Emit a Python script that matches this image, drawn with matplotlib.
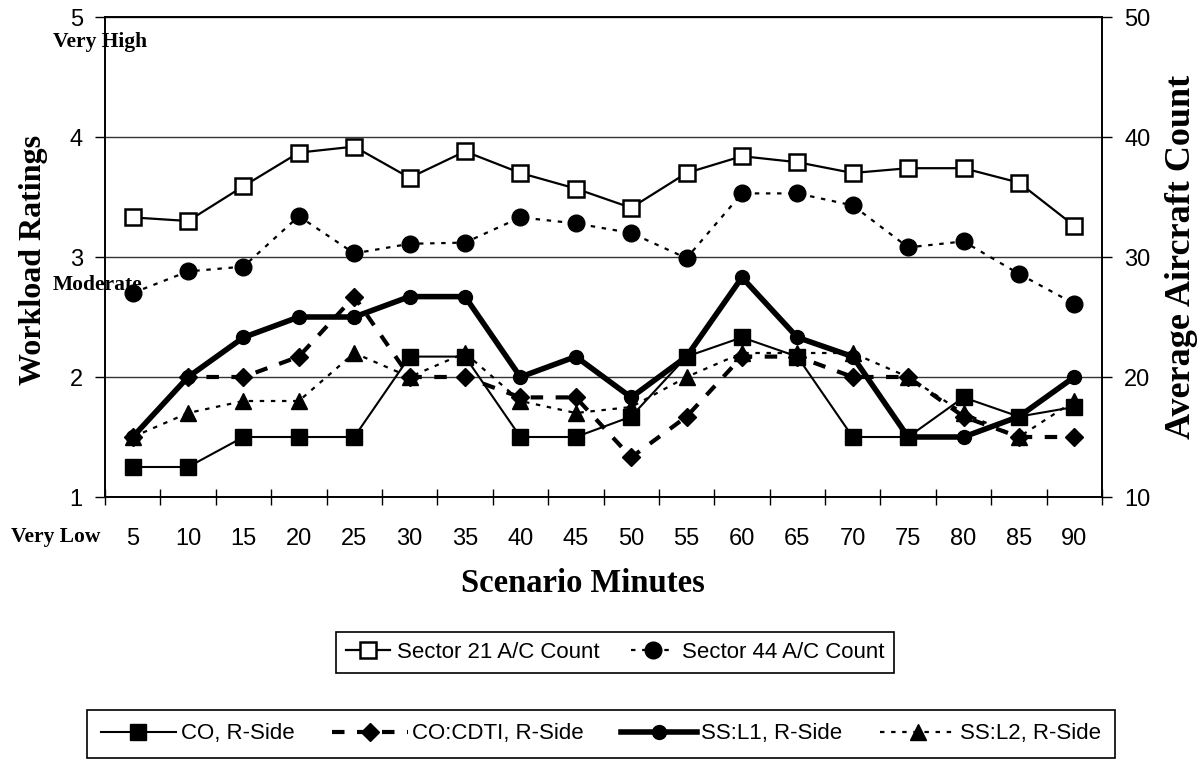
import numpy as np
import matplotlib.pyplot as plt
from matplotlib.ticker import FixedLocator

minutes = [5, 10, 15, 20, 25, 30, 35, 40, 45, 50, 55, 60, 65, 70, 75, 80, 85, 90]

# workload ratings (left axis)
co_rside = [1.25, 1.25, 1.5, 1.5, 1.5, 2.17, 2.17, 1.5, 1.5, 1.67, 2.17, 2.33, 2.17, 1.5, 1.5, 1.83, 1.67, 1.75]
cdti_rside = [1.5, 2.0, 2.0, 2.17, 2.67, 2.0, 2.0, 1.83, 1.83, 1.33, 1.67, 2.17, 2.17, 2.0, 2.0, 1.67, 1.5, 1.5]
ssl1_rside = [1.5, 2.0, 2.33, 2.5, 2.5, 2.67, 2.67, 2.0, 2.17, 1.83, 2.17, 2.83, 2.33, 2.17, 1.5, 1.5, 1.67, 2.0]
ssl2_rside = [1.5, 1.7, 1.8, 1.8, 2.2, 2.0, 2.2, 1.8, 1.7, 1.75, 2.0, 2.2, 2.2, 2.2, 2.0, 1.7, 1.5, 1.8]

# aircraft counts (right axis)
sector21 = [33.3, 33.0, 35.9, 38.7, 39.2, 36.6, 38.8, 37.0, 35.7, 34.1, 37.0, 38.4, 37.9, 37.0, 37.4, 37.4, 36.2, 32.6]
sector44 = [27.0, 28.8, 29.2, 33.4, 30.3, 31.1, 31.2, 33.3, 32.8, 32.0, 29.9, 35.3, 35.3, 34.3, 30.8, 31.3, 28.6, 26.1]

sans = ['Liberation Sans', 'DejaVu Sans']
serif = ['Liberation Serif', 'DejaVu Serif']
plt.rcParams['font.family'] = sans

W, H = 1202, 767
fig = plt.figure(figsize=(W/100, H/100), dpi=100)
ax = fig.add_axes([105/W, 1-497/H, (1102-105)/W, (497-17)/H])
ax2 = ax.twinx()

x = np.arange(1, len(minutes) + 1)

h1, = ax.plot(x, co_rside, color='black', lw=1.5, marker='s', ms=12, label='CO, R-Side')
h2, = ax.plot(x, cdti_rside, color='black', lw=3, dashes=(3, 3), marker='D', ms=9, label='CO:CDTI, R-Side')
h3, = ax.plot(x, ssl1_rside, color='black', lw=4, marker='o', ms=10, label='SS:L1, R-Side')
h4, = ax.plot(x, ssl2_rside, color='black', lw=1.6, dashes=(2, 3), marker='^', ms=12, label='SS:L2, R-Side')

s1, = ax2.plot(x, sector21, color='black', lw=1.6, marker='s', ms=12, mfc='white', mew=1.8,
               label='Sector 21 A/C Count')
s2, = ax2.plot(x, sector44, color='black', lw=1.6, dashes=(2, 3), marker='o', ms=12,
               label='Sector 44 A/C Count')

ax.set_xlim(0.5, len(minutes) + 0.5)
ax.set_ylim(1, 5)
ax2.set_ylim(10, 50)
ax.set_yticks([1, 2, 3, 4, 5])
ax2.set_yticks([10, 20, 30, 40, 50])
ax.set_xticks(x)
ax.set_xticklabels([str(m) for m in minutes])
ax.xaxis.set_minor_locator(FixedLocator(np.arange(0.5, len(minutes) + 1, 1)))
ax.tick_params(axis='x', which='major', length=0, labelsize=17, pad=22)
ax.tick_params(axis='x', which='minor', direction='inout', length=12, width=1)
ax.tick_params(axis='y', direction='out', length=7, width=1, labelsize=17, pad=9)
ax2.tick_params(axis='y', direction='out', length=7, width=1, labelsize=17, pad=9)

ax.grid(axis='y', color='#333333', lw=1)
for sp in ax.spines.values():
    sp.set_linewidth(1.2)
for sp in ax2.spines.values():
    sp.set_linewidth(1.2)

fig.text(34/W, 1-260/H, 'Workload Ratings', rotation=90, ha='center', va='center',
         family=serif, fontweight='bold', fontsize=23)
fig.text(1181/W, 1-257/H, 'Average Aircraft Count', rotation=90, ha='center', va='center',
         family=serif, fontweight='bold', fontsize=26)
fig.text(583/W, 1-583/H, 'Scenario Minutes', ha='center', va='center',
         family=serif, fontweight='bold', fontsize=23.5)
fig.text(100/W, 1-42/H, 'Very High', ha='center', va='center',
         family=serif, fontweight='bold', fontsize=15.5)
fig.text(53/W, 1-285/H, 'Moderate', ha='left', va='center',
         family=serif, fontweight='bold', fontsize=15.5)
fig.text(56/W, 1-537/H, 'Very Low', ha='center', va='center',
         family=serif, fontweight='bold', fontsize=15.5)

leg1 = fig.legend(handles=[s1, s2], loc='center', bbox_to_anchor=(615/W, 1-652/H), ncol=2,
                  fontsize=16, frameon=True, fancybox=False, edgecolor='black', framealpha=1,
                  handlelength=2, handletextpad=0.3, columnspacing=1.4, borderpad=0.45)
leg1.get_frame().set_linewidth(1.2)
leg2 = fig.legend(handles=[h1, h2, h3, h4], loc='center', bbox_to_anchor=(601/W, 1-734/H), ncol=4,
                  fontsize=16, frameon=True, fancybox=False, edgecolor='black', framealpha=1,
                  handlelength=3.4, handletextpad=0.2, columnspacing=1.7, borderpad=0.6)
leg2.get_frame().set_linewidth(1.2)

fig.savefig('out.png', dpi=100)
